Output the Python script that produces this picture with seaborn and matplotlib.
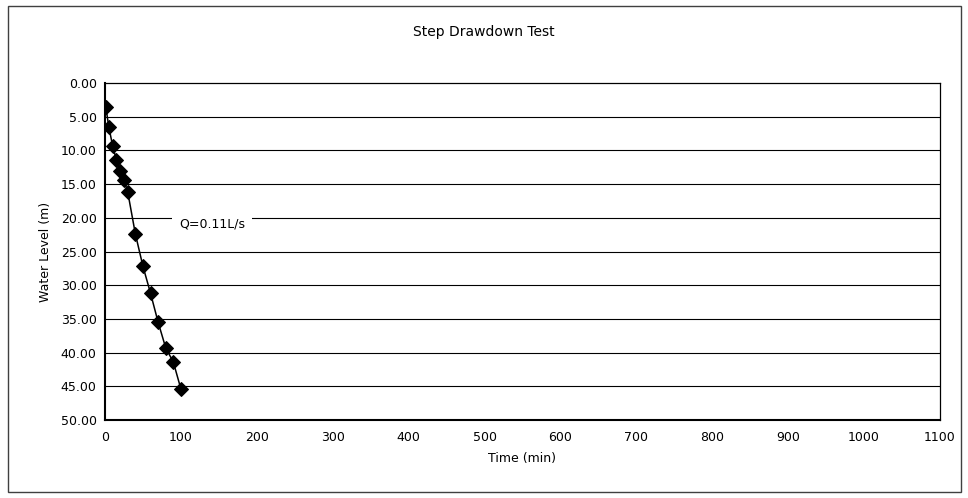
import numpy as np
import pandas as pd
import matplotlib.pyplot as plt
import seaborn as sns
from matplotlib.patches import Rectangle

time_min = [1, 5, 10, 15, 20, 25, 30, 40, 50, 60, 70, 80, 90, 100]
water_level = [3.5, 6.5, 9.3, 11.4, 13.1, 14.4, 16.2, 22.4, 27.2, 31.2, 35.5, 39.3, 41.4, 45.4]
x_ticks = list(range(0, 1101, 100))
y_ticks = [0, 5, 10, 15, 20, 25, 30, 35, 40, 45, 50]

df = pd.DataFrame({'Time (min)': time_min, 'Water Level (m)': water_level})

sns.set_style('white')
plt.rcParams['font.family'] = ['DejaVu Sans']
plt.rcParams['text.color'] = 'black'
plt.rcParams['axes.labelcolor'] = 'black'
plt.rcParams['xtick.color'] = 'black'
plt.rcParams['ytick.color'] = 'black'

fig = plt.figure(figsize=(9.68, 4.98), dpi=100)
ax = fig.add_axes([105 / 968, 1 - 420 / 498, 835 / 968, 337 / 498])

# outer border of the chart
fig.patches.append(Rectangle((8 / 968, 6 / 498), 953 / 968, 486 / 498,
                             transform=fig.transFigure, fill=False,
                             edgecolor='#404040', linewidth=1.0))

ax.set_axisbelow(True)
for yt in y_ticks[1:-1]:
    ax.axhline(yt, color='black', linewidth=0.8, zorder=0)

sns.lineplot(data=df, x='Time (min)', y='Water Level (m)', ax=ax,
             color='black', marker='D', markersize=7, linewidth=1.1,
             markeredgecolor='black', zorder=3)

ax.set_xlim(0, 1100)
ax.set_ylim(50, 0)
ax.set_xticks(x_ticks)
ax.set_yticks(y_ticks)
ax.set_yticklabels([f'{v:.2f}' for v in y_ticks], fontsize=9)
ax.set_xticklabels([str(v) for v in x_ticks], fontsize=9)
ax.tick_params(axis='x', direction='in', length=4, width=0.8, pad=8)
ax.tick_params(axis='y', length=0, pad=6)

for s in ax.spines.values():
    s.set_color('black')
    s.set_linewidth(0.9)
ax.spines['left'].set_linewidth(1.5)
ax.spines['bottom'].set_linewidth(1.5)

ax.set_xlabel('Time (min)', fontsize=9, labelpad=6)
ax.set_ylabel('Water Level (m)', fontsize=9, labelpad=6)
fig.text(0.5, 1 - 32 / 498, 'Step Drawdown Test', ha='center', va='center', fontsize=10)

ax.text(98, 20.9, 'Q=0.11L/s', fontsize=9, ha='left', va='center', zorder=4,
        bbox=dict(facecolor='white', edgecolor='none', pad=5))

fig.savefig('out.png', dpi=100)
